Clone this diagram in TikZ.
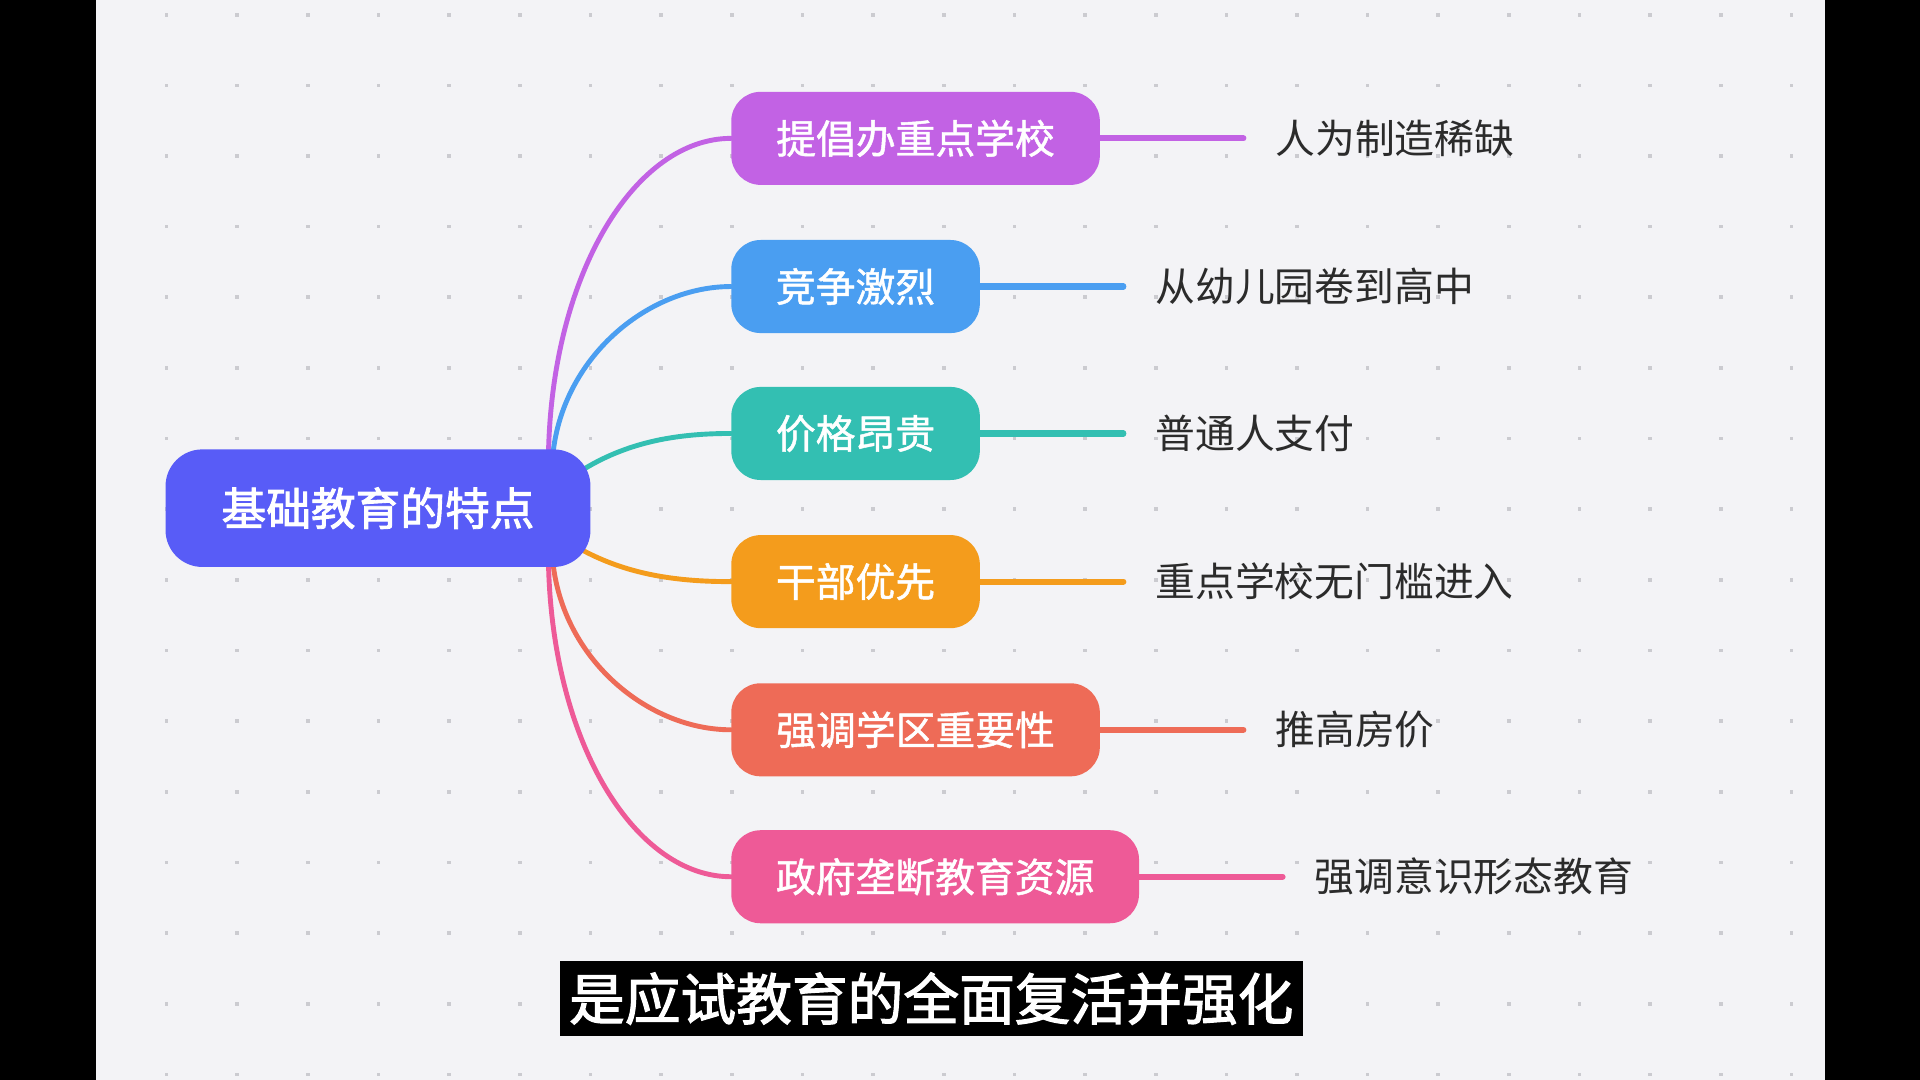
\documentclass[tikz,border=0pt]{standalone}
\usepackage{fontspec}
\usetikzlibrary{calc}
\newfontfamily\cjk{Noto Sans CJK SC}
\newfontfamily\cjkm[FakeBold=1.2]{Noto Sans CJK SC}
\newfontfamily\cjkb[FakeBold=2]{Noto Sans CJK SC}
\pgfdeclarelayer{bg}
\pgfdeclarelayer{edges}
\pgfsetlayers{bg,edges,main}
\definecolor{bgc}{HTML}{F3F3F6}
\definecolor{dotc}{HTML}{CBCBD0}
\definecolor{rootc}{HTML}{585CF7}
\definecolor{cpurple}{HTML}{C262E4}
\definecolor{cblue}{HTML}{4A9EF1}
\definecolor{cteal}{HTML}{33BFB2}
\definecolor{corange}{HTML}{F49C1C}
\definecolor{cred}{HTML}{EE6B57}
\definecolor{cpink}{HTML}{EE5A97}
\definecolor{leafc}{HTML}{2B2B2B}
\tikzset{
  rootbox/.style={fill=rootc, text=white, rounded corners=30pt, minimum width=347pt, minimum height=96pt, inner sep=0pt, anchor=west, font=\cjkb\fontsize{36.5pt}{36.5pt}\selectfont},
  childbox/.style={fill=#1, text=white, rounded corners=24pt, minimum height=76pt, inner sep=0pt, anchor=west, font=\cjkm\fontsize{32.5pt}{32.5pt}\selectfont},
  leaftext/.style={text=leafc, inner sep=0pt, anchor=west, font=\cjk\fontsize{32.5pt}{32.5pt}\selectfont},
  conn/.style={draw=#1, line width=4pt, line cap=round},
  leafline/.style={draw=#1, line width=5pt, line cap=round},
}
\begin{document}
\begin{tikzpicture}[x=1pt,y=-1pt]
\useasboundingbox (0,0) rectangle (1568,882);
\begin{pgfonlayer}{bg}
  \fill[black] (0,0) rectangle (1568,882);
  \fill[bgc] (78,0) rectangle (1490,882);
  \foreach \i in {0,...,23} {
    \foreach \j in {0,...,15} {
      \fill[dotc] ({136+\i*57.7-1.5},{12+\j*57.7-1.5}) rectangle ++(3,3);
    }
  }
\end{pgfonlayer}

% root
\node[rootbox] (root) at (135,415) {基础教育的特点};

% children
\node[childbox=cpurple, minimum width=301pt] (c1) at (597,113) {提倡办重点学校};
\node[childbox=cblue, minimum width=203pt] (c2) at (597,234) {竞争激烈};
\node[childbox=cteal, minimum width=203pt] (c3) at (597,354) {价格昂贵};
\node[childbox=corange, minimum width=203pt] (c4) at (597,475) {干部优先};
\node[childbox=cred, minimum width=301pt] (c5) at (597,596) {强调学区重要性};
\node[childbox=cpink, minimum width=333pt] (c6) at (597,716) {政府垄断教育资源};

% leaf line ends
\coordinate (e1) at ($(c1.east)+(117,0)$);
\coordinate (e2) at ($(c2.east)+(117,0)$);
\coordinate (e3) at ($(c3.east)+(117,0)$);
\coordinate (e4) at ($(c4.east)+(117,0)$);
\coordinate (e5) at ($(c5.east)+(117,0)$);
\coordinate (e6) at ($(c6.east)+(117,0)$);

% leaves
\node[leaftext] (l1) at ($(e1)+(26,0)$) {人为制造稀缺};
\node[leaftext] (l2) at ($(e2)+(26,0)$) {从幼儿园卷到高中};
\node[leaftext] (l3) at ($(e3)+(26,0)$) {普通人支付};
\node[leaftext] (l4) at ($(e4)+(26,0)$) {重点学校无门槛进入};
\node[leaftext] (l5) at ($(e5)+(26,0)$) {推高房价};
\node[leaftext] (l6) at ($(e6)+(26,0)$) {强调意识形态教育};

\begin{pgfonlayer}{edges}
  \coordinate (s1) at (448,367);
  \coordinate (s2) at (452,367);
  \coordinate (s3) at (477,383);
  \coordinate (s4) at (477,450);
  \coordinate (s5) at (452,463);
  \coordinate (s6) at (448,463);
  \draw[conn=cpurple] (s1) .. controls (452,220) and (520,113) .. (c1.west);
  \draw[conn=cblue] (s2) .. controls (462,290) and (530,234) .. (c2.west);
  \draw[conn=cteal] (s3) .. controls (515,360) and (555,354) .. (c3.west);
  \draw[conn=corange] (s4) .. controls (515,470) and (555,475) .. (c4.west);
  \draw[conn=cred] (s5) .. controls (462,540) and (530,596) .. (c5.west);
  \draw[conn=cpink] (s6) .. controls (452,610) and (520,716) .. (c6.west);
  \draw[leafline=cpurple] (c1.east) -- (e1);
  \draw[leafline=cblue] (c2.east) -- (e2);
  \draw[leafline=cteal] (c3.east) -- (e3);
  \draw[leafline=corange] (c4.east) -- (e4);
  \draw[leafline=cred] (c5.east) -- (e5);
  \draw[leafline=cpink] (c6.east) -- (e6);
\end{pgfonlayer}

% subtitle
\node[fill=black, text=white, minimum width=607pt, minimum height=61pt, inner sep=0pt, font=\cjkb\fontsize{45.5pt}{45.5pt}\selectfont] (sub) at (760.5,815.5) {是应试教育的全面复活并强化};
\end{tikzpicture}
\end{document}
